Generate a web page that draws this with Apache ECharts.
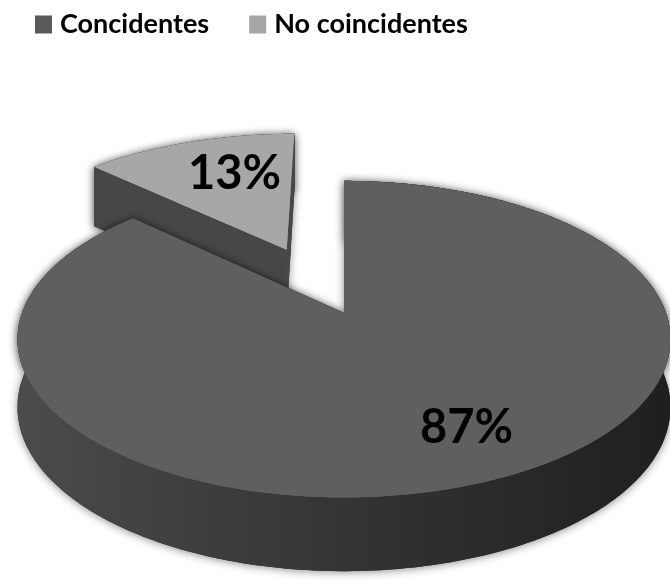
<!DOCTYPE html>
<html>
<head>
<meta charset="utf-8">
<script src="https://cdn.jsdelivr.net/npm/echarts@6/dist/echarts.min.js"></script>
<style>
  html, body { margin: 0; padding: 0; background: #ffffff; }
  #chart { width: 670px; height: 580px; }
</style>
</head>
<body>
<div id="chart"></div>
<script>
// Shares of the two groups (percent)
const categories = ['Concidentes', 'No coincidentes'];
const shares = [87, 13];

// Appearance of each slice
const topColors = ['#5f5f5f', '#a7a7a7'];
const legendColors = ['#595959', '#a6a6a6'];
const explode = [0, 0.48];          // pull-out distance, fraction of radius
const labelRadius = [0.77, 0.62];   // label distance from apex, fraction of radius
const labelNudge = [[11, -8], [11, -6]];

// Tilted-disc view: centre, radii, perspective strength and thickness
const view = { cx: 0.5134, cy: 0.5397, a: 322, b: 154, c: 0.165, depth: 67, kd: 0.1 };

const total = shares.reduce((s, v) => s + v, 0);

// u: left/right, v: back(-)/front(+), z: 0 top face, 1 bottom face
function project(W, H, u, v, z) {
  const s = 1 / (1 - view.c * v);
  return [
    W * view.cx + view.a * u * s,
    H * view.cy + view.b * v * s + z * view.depth * (1 + view.kd * v)
  ];
}

function sliceRenderer(idx) {
  return function (params, api) {
    const W = api.getWidth(), H = api.getHeight();
    const value = api.value(0);
    let before = 0;
    for (let i = 0; i < idx; i++) before += shares[i];
    const t0 = before / total * Math.PI * 2;
    const t1 = t0 + value / total * Math.PI * 2;
    const tm = (t0 + t1) / 2;
    const ou = explode[idx] * Math.sin(tm);
    const ov = -explode[idx] * Math.cos(tm);
    const pt = (t, z) => project(W, H, ou + Math.sin(t), ov - Math.cos(t), z);
    const apex = (z) => project(W, H, ou, ov, z);

    const steps = Math.max(8, Math.ceil((t1 - t0) / (Math.PI / 180)));
    const topArc = [], botArc = [];
    for (let i = 0; i <= steps; i++) {
      const t = t0 + (t1 - t0) * i / steps;
      topArc.push(pt(t, 0));
      botArc.push(pt(t, 1));
    }

    const wallFill = new echarts.graphic.LinearGradient(18, 0, 670, 0, [
      { offset: 0, color: '#4b4b4b' },
      { offset: 0.45, color: '#363636' },
      { offset: 1, color: '#1f1f1f' }
    ], true);

    const wallPts = topArc.concat(botArc.slice().reverse());
    const sideA = [apex(0), pt(t0, 0), pt(t0, 1), apex(1)];
    const sideB = [apex(0), pt(t1, 0), pt(t1, 1), apex(1)];
    const topPts = [apex(0)].concat(topArc);
    const sideColor = idx === 0 ? '#2c2c2c' : '#474747';

    const faces = [
      { pts: wallPts, fill: wallFill },
      { pts: sideA, fill: sideColor },
      { pts: sideB, fill: sideColor },
      { pts: topPts, fill: topColors[idx] }
    ];

    const children = [];
    // soft outer shadow behind the solid
    faces.forEach(f => children.push({
      type: 'polygon',
      shape: { points: f.pts },
      style: {
        fill: typeof f.fill === 'string' ? f.fill : '#333333',
        shadowBlur: 9, shadowColor: 'rgba(0,0,0,0.45)',
        shadowOffsetX: 0, shadowOffsetY: 1
      }
    }));
    faces.forEach(f => children.push({
      type: 'polygon',
      shape: { points: f.pts },
      style: { fill: f.fill, stroke: null }
    }));

    const lr = labelRadius[idx];
    const lp = project(W, H, ou + lr * Math.sin(tm), ov - lr * Math.cos(tm), 0);
    children.push({
      type: 'text',
      x: lp[0] + labelNudge[idx][0],
      y: lp[1] + labelNudge[idx][1],
      style: {
        text: value + '%',
        fill: '#000000',
        font: 'bold 47px Lato',
        align: 'center',
        verticalAlign: 'middle'
      }
    });

    return { type: 'group', children: children };
  };
}

const chart = echarts.init(document.getElementById('chart'), null, { renderer: 'canvas' });

chart.setOption({
  animation: false,
  backgroundColor: '#ffffff',
  legend: {
    data: categories,
    top: 6,
    left: 30,
    icon: 'rect',
    itemWidth: 17,
    itemHeight: 18,
    itemGap: 40,
    textStyle: {
      fontFamily: 'Lato',
      fontWeight: 'bold',
      fontSize: 27,
      color: '#000000',
      padding: [0, 0, 0, 3]
    }
  },
  series: categories.map((name, idx) => ({
    type: 'custom',
    name: name,
    coordinateSystem: 'none',
    z: idx === 0 ? 3 : 2,
    itemStyle: { color: legendColors[idx] },
    silent: true,
    data: [[shares[idx]]],
    renderItem: sliceRenderer(idx)
  }))
});
</script>
</body>
</html>
